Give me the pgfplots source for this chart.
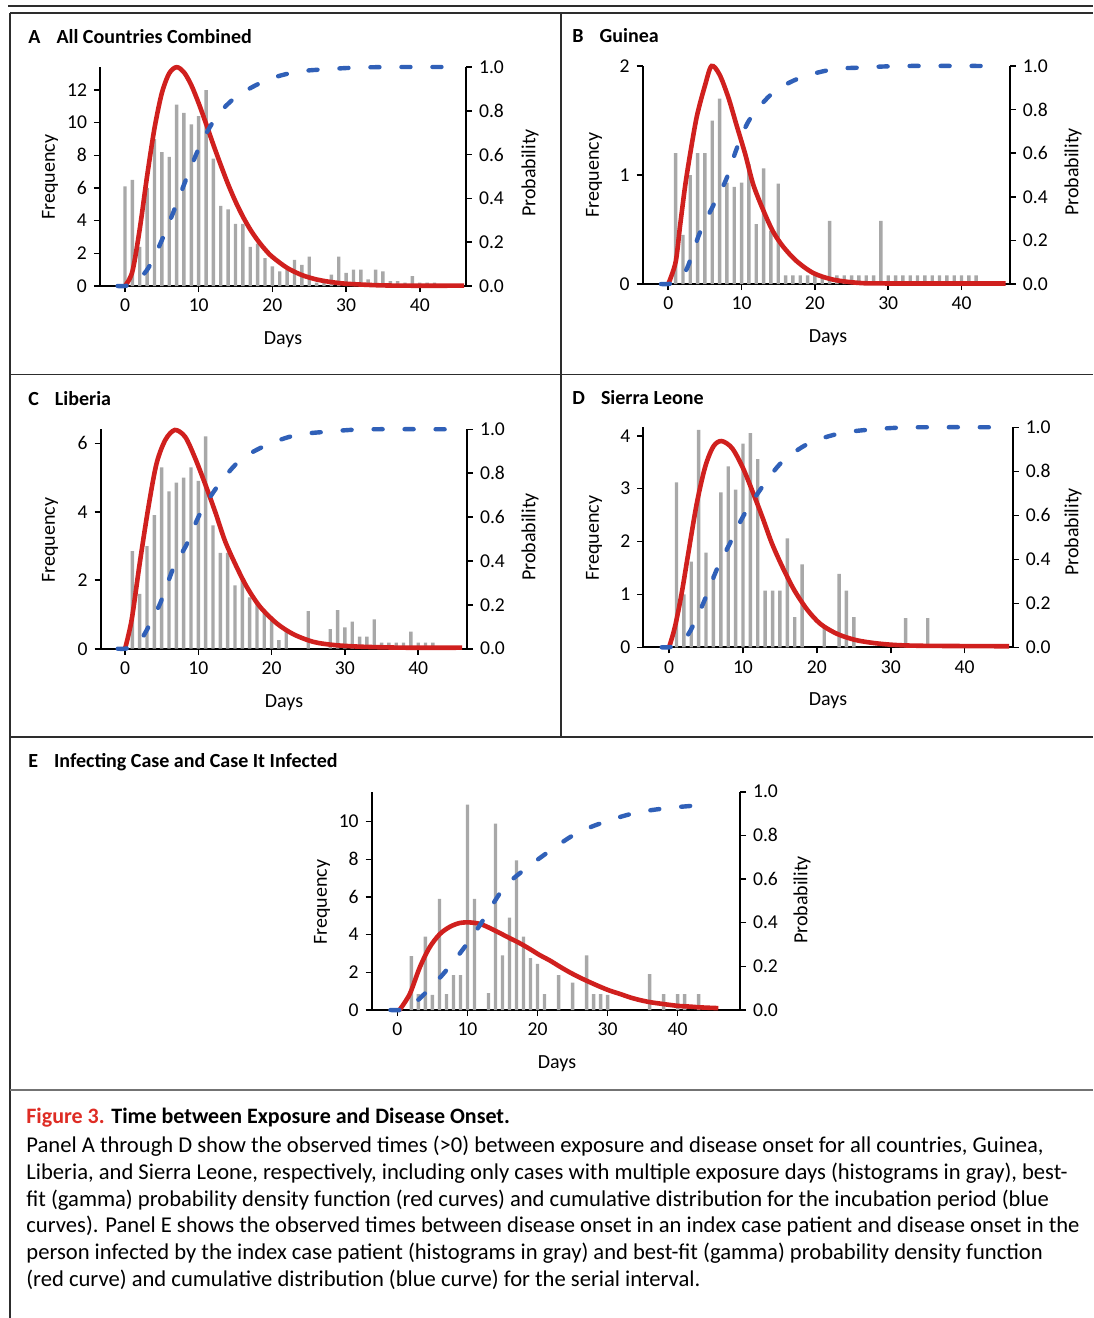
\documentclass[border=0pt]{standalone}
\usepackage{fontspec}
\setmainfont{Carlito}
\usepackage{pgfplots}
\pgfplotsset{compat=1.18}

\definecolor{barg}{RGB}{168,168,168}
\definecolor{pdfred}{RGB}{208,32,30}
\definecolor{cdfblue}{RGB}{48,96,184}
\definecolor{figred}{RGB}{222,44,36}
\definecolor{framec}{RGB}{45,45,45}

\newcommand{\tickfont}{\fontsize{9.8}{10}\selectfont}
\newcommand{\labfont}{\fontsize{10}{11}\selectfont}
\newcommand{\titfont}{\fontsize{10}{12}\selectfont\bfseries}
\newcommand{\capfont}{\fontsize{11.3}{13.4}\selectfont}

\pgfplotsset{
  panel/.style={scale only axis, clip=false,
    axis line style={line width=0.9pt, black},
    tick style={line width=0.8pt, black},
    major tick length=3pt, tick align=outside,
    ticklabel style={font=\tickfont},
    /pgf/number format/assume math mode=true},
  leftax/.style={panel, axis x line*=bottom, axis y line*=left,
    xtick={0,10,20,30,40}, ymin=0},
  rightax/.style={panel, axis x line=none, axis y line*=right,
    ymin=0, ymax=1, ytick={0,0.2,0.4,0.6,0.8,1},
    yticklabel style={/pgf/number format/.cd, fixed, fixed zerofill, precision=1}},
  bars/.style={ybar, bar width=1.7pt, bar shift=0pt, fill=barg, draw=none},
  pdf/.style={pdfred, line width=2.3pt, smooth, no markers},
  cdf/.style={cdfblue, line width=2.2pt, line cap=round, dash pattern=on 4.5pt off 11pt, smooth, no markers},
}

\begin{document}
\begin{tikzpicture}
\useasboundingbox (0pt,0pt) rectangle (546.5pt,-659pt);

% frame
\draw[framec, line width=1pt] (4pt,-3pt) -- (546.5pt,-3pt);
\draw[framec, line width=0.9pt] (5pt,-6.5pt) -- (546.5pt,-6.5pt);
\draw[framec, line width=0.9pt] (5pt,-6.5pt) -- (5pt,-659pt);
\draw[framec, line width=0.9pt] (280.5pt,-6.5pt) -- (280.5pt,-368.5pt);
\draw[framec, line width=0.8pt] (5pt,-187.2pt) -- (546.5pt,-187.2pt);
\draw[framec, line width=0.8pt] (5pt,-368.5pt) -- (546.5pt,-368.5pt);
\draw[black!55, line width=1.3pt] (5pt,-545pt) -- (546.5pt,-545pt);

% ---------- A ----------
\begin{axis}[leftax, at={(50pt,-143pt)}, anchor=south west, width=183pt, height=109.5pt,
  xmin=-3.39, xmax=46.27, ymax=13.41, ytick={0,2,4,6,8,10,12}]
\addplot[bars] coordinates {(0,6.1)(1,6.5)(2,2.4)(3,6.0)(4,9.0)(5,8.2)(6,7.9)(7,11.1)(8,10.6)(9,9.9)
  (10,10.4)(11,12.0)(12,7.8)(13,4.9)(14,4.7)(15,3.8)(16,3.8)(17,2.4)(18,2.6)(19,1.7)(20,1.2)
  (21,0.9)(22,1.0)(23,1.6)(24,1.3)(25,1.8)(26,0.2)(27,0.2)(28,0.7)(29,1.8)(30,0.8)(31,1.0)
  (32,1.0)(33,0.4)(34,1.0)(35,0.9)(36,0.3)(37,0.3)(38,0.2)(39,0.6)(40,0.2)(41,0.2)(42,0.2)};
\addplot[pdf] coordinates {(0,0)(1,0.88)(2,3.48)(3,6.73)(4,9.65)(5,11.81)(6,13.02)(7,13.4)(8,13.09)
  (9,12.30)(10,11.19)(11,9.94)(12,8.64)(13,7.40)(14,6.22)(15,5.17)(16,4.25)(17,3.46)(18,2.80)
  (19,2.24)(20,1.78)(22,1.11)(24,0.67)(26,0.40)(28,0.24)(30,0.14)(34,0.05)(38,0.02)(46,0.02)};
\end{axis}
\begin{axis}[rightax, at={(50pt,-143pt)}, anchor=south west, width=183pt, height=109.5pt,
  xmin=-3.39, xmax=46.27]
\addplot[cdf] coordinates {(-1,0)(0,0)(1,0.01)(2,0.035)(3.2,0.084)(4.75,0.19)(6.55,0.336)(8.14,0.474)
  (10.2,0.642)(12.4,0.772)(15.1,0.864)(19.2,0.94)(23.3,0.978)(27.4,0.99)(32,0.998)(38,1.0)(45,1.0)};
\end{axis}

% ---------- B ----------
\begin{axis}[leftax, at={(321.35pt,-142pt)}, anchor=south west, width=183.6pt, height=109pt,
  xmin=-3.49, xmax=46.6, ymax=2, ytick={0,1,2}]
\addplot[bars] coordinates {(1,1.2)(2,0.45)(3,1.0)(4,1.2)(5,1.2)(6,1.5)(7,1.7)(8,0.93)(9,0.89)
  (10,0.93)(11,1.1)(12,0.55)(13,1.06)(14,0.49)(15,0.92)(16,0.08)(17,0.08)(18,0.08)(19,0.08)
  (20,0.08)(21,0.08)(22,0.58)(23,0.08)(24,0.08)(25,0.08)(26,0.08)(27,0.08)(28,0.08)(29,0.58)
  (30,0.08)(31,0.08)(32,0.08)(33,0.08)(34,0.08)(35,0.08)(36,0.08)(37,0.08)(38,0.08)(39,0.08)
  (40,0.08)(41,0.08)(42,0.08)};
\addplot[pdf] coordinates {(0,0)(1,0.2)(1.6,0.53)(2.3,0.9)(3.0,1.2)(3.9,1.54)(5.0,1.82)(5.9,2.0)
  (7.0,1.92)(8.2,1.71)(9.3,1.46)(10.5,1.19)(11.6,0.91)(13.0,0.67)(14.3,0.48)(15.7,0.34)
  (17.5,0.21)(19.8,0.10)(22.5,0.04)(26,0.01)(30,0.005)(46,0.005)};
\end{axis}
\begin{axis}[rightax, at={(321.35pt,-142pt)}, anchor=south west, width=183.6pt, height=109pt,
  xmin=-3.49, xmax=46.6]
\addplot[cdf] coordinates {(-1,0)(0,0)(1,0.01)(2,0.045)(2.7,0.083)(4.3,0.235)(6.1,0.358)(7.9,0.48)
  (9.3,0.618)(11.1,0.755)(14.3,0.878)(18.0,0.946)(22.5,0.985)(26.6,0.993)(32,1.0)(45.5,1.0)};
\end{axis}

% ---------- C ----------
\begin{axis}[leftax, at={(50.35pt,-324.35pt)}, anchor=south west, width=183.15pt, height=109.7pt,
  xmin=-3.32, xmax=46.66, ymax=6.41, ytick={0,2,4,6}]
\addplot[bars] coordinates {(1,2.85)(2,1.6)(3,3.0)(4,3.9)(5,5.3)(6,4.6)(7,4.85)(8,5.0)(9,5.3)
  (10,4.9)(11,6.2)(12,3.6)(13,2.8)(14,2.8)(15,1.85)(16,2.0)(17,1.5)(18,1.35)(19,1.1)(20,0.85)
  (21,0.25)(22,0.52)(25,1.1)(28,0.57)(29,1.13)(30,0.62)(31,0.79)(32,0.35)(33,0.35)(34,0.86)
  (35,0.18)(36,0.18)(37,0.18)(38,0.18)(39,0.5)(40,0.18)(41,0.18)(42,0.18)};
\addplot[pdf] coordinates {(0,0)(0.9,0.84)(2.0,2.49)(3.2,4.15)(4.3,5.41)(5.5,6.1)(6.8,6.39)(8.2,6.19)
  (9.5,5.6)(10.9,4.83)(12.3,4.0)(13.6,3.17)(15.0,2.49)(16.6,1.81)(18.4,1.23)(20.7,0.74)
  (23.0,0.42)(25.7,0.2)(28.4,0.11)(32,0.06)(38,0.03)(46,0.03)};
\end{axis}
\begin{axis}[rightax, at={(50.35pt,-324.35pt)}, anchor=south west, width=183.15pt, height=109.7pt,
  xmin=-3.32, xmax=46.66]
\addplot[cdf] coordinates {(-1,0)(0,0)(1,0.01)(2,0.04)(2.7,0.069)(4.8,0.207)(6.6,0.368)(8.4,0.475)
  (10.2,0.613)(12.7,0.744)(15.7,0.859)(19.3,0.928)(23.4,0.974)(28,0.99)(33,1.0)(45.5,1.0)};
\end{axis}

% ---------- D ----------
\begin{axis}[leftax, at={(321.65pt,-323.65pt)}, anchor=south west, width=184.7pt, height=110pt,
  xmin=-3.49, xmax=46.5, ymax=4.16, ytick={0,1,2,3,4}]
\addplot[bars] coordinates {(1,3.12)(2,1.0)(3,1.62)(4,4.11)(5,1.79)(6,1.35)(7,2.93)(8,3.42)(9,2.98)
  (10,3.85)(11,4.05)(12,3.56)(13,1.07)(14,1.07)(15,1.07)(16,2.06)(17,0.57)(18,1.57)(21,0.4)
  (23,1.39)(24,1.07)(25,0.57)(32,0.55)(35,0.55)};
\addplot[pdf] coordinates {(0,0)(0.8,0.39)(1.7,1.02)(2.6,1.78)(3.76,2.73)(4.9,3.42)(6.0,3.8)(7.1,3.9)
  (8.5,3.77)(9.9,3.42)(11.2,2.98)(12.6,2.47)(13.9,1.97)(15.3,1.53)(16.9,1.09)(18.7,0.71)
  (20.5,0.44)(22.8,0.25)(25.5,0.13)(29.1,0.06)(33.6,0.03)(46,0.02)};
\end{axis}
\begin{axis}[rightax, at={(321.65pt,-323.65pt)}, anchor=south west, width=184.7pt, height=110pt,
  xmin=-3.49, xmax=46.5]
\addplot[cdf] coordinates {(-1,0)(0,0)(1,0.01)(2,0.04)(2.85,0.073)(4.66,0.203)(6.47,0.355)(8.3,0.477)
  (10.1,0.6)(12.6,0.729)(15.3,0.843)(18.9,0.927)(23.2,0.973)(27.7,0.991)(33,1.0)(45.5,1.0)};
\end{axis}

% ---------- E ----------
\begin{axis}[leftax, at={(185.85pt,-505pt)}, anchor=south west, width=184.15pt, height=109.15pt,
  xmin=-3.67, xmax=48.9, ymax=11.59, ytick={0,2,4,6,8,10}]
\addplot[bars] coordinates {(2,2.86)(3,0.85)(4,3.9)(5,0.8)(6,5.9)(7,0.85)(8,1.85)(9,1.85)(10,10.9)
  (11,5.9)(13,0.9)(14,9.9)(15,2.9)(16,4.9)(17,7.95)(18,3.9)(19,2.75)(20,2.45)(21,0.85)(23,1.85)
  (25,1.45)(27,2.9)(28,0.85)(29,0.85)(30,0.8)(36,1.9)(38,0.85)(40,0.85)(41,0.85)(43,0.85)};
\addplot[pdf] coordinates {(0.3,0)(1.76,0.85)(3.2,2.27)(4.6,3.33)(6.05,4.03)(7.5,4.42)(8.9,4.62)
  (10.3,4.65)(11.8,4.57)(13.2,4.35)(14.6,4.09)(16.0,3.82)(17.5,3.54)(18.9,3.24)(20.3,2.92)
  (21.8,2.62)(23.2,2.30)(24.6,2.0)(26.0,1.73)(27.5,1.47)(28.9,1.24)(30.3,1.03)(31.8,0.85)
  (33.2,0.67)(34.6,0.53)(36.0,0.42)(37.5,0.34)(38.9,0.27)(40.3,0.21)(41.8,0.18)(43.2,0.14)(45.8,0.1)};
\end{axis}
\begin{axis}[rightax, at={(185.85pt,-505pt)}, anchor=south west, width=184.15pt, height=109.15pt,
  xmin=-3.67, xmax=48.9]
\addplot[cdf] coordinates {(-1,0)(0.5,0)(1.5,0.012)(3.2,0.053)(6.4,0.16)(9.4,0.28)(12.0,0.40)
  (15.1,0.556)(18.0,0.64)(21.8,0.73)(25.6,0.81)(29.7,0.863)(34.1,0.904)(38.8,0.926)(44,0.94)};
\end{axis}

% ---------- titles and labels ----------
\begin{scope}[every node/.style={inner sep=0pt}]
\node[anchor=west, font=\titfont] at (14pt,-18.5pt) {A\hspace{8pt}All Countries Combined};
\node[anchor=west, font=\titfont] at (286pt,-18pt) {B\hspace{8pt}Guinea};
\node[anchor=west, font=\titfont] at (14pt,-199.5pt) {C\hspace{8pt}Liberia};
\node[anchor=west, font=\titfont] at (286pt,-199pt) {D\hspace{8pt}Sierra Leone};
\node[anchor=west, font=\titfont] at (14pt,-381pt) {E\hspace{8pt}Infecting Case and Case It Infected};

\node[font=\labfont, rotate=90] at (25pt,-88.5pt) {Frequency};
\node[font=\labfont, rotate=90] at (297pt,-87.5pt) {Frequency};
\node[font=\labfont, rotate=90] at (25pt,-270pt) {Frequency};
\node[font=\labfont, rotate=90] at (297pt,-269pt) {Frequency};
\node[font=\labfont, rotate=90] at (161pt,-451pt) {Frequency};

\node[font=\labfont, rotate=90] at (265pt,-86.5pt) {Probability};
\node[font=\labfont, rotate=90] at (536.5pt,-86pt) {Probability};
\node[font=\labfont, rotate=90] at (265pt,-268.5pt) {Probability};
\node[font=\labfont, rotate=90] at (536.5pt,-266pt) {Probability};
\node[font=\labfont, rotate=90] at (401pt,-450pt) {Probability};

\node[font=\labfont] at (141.5pt,-170pt) {Days};
\node[font=\labfont] at (414pt,-169pt) {Days};
\node[font=\labfont] at (142pt,-351.5pt) {Days};
\node[font=\labfont] at (414pt,-350.5pt) {Days};
\node[font=\labfont] at (278.5pt,-532pt) {Days};

% caption
\node[anchor=base west, font=\fontsize{11}{13}\selectfont\bfseries] at (13pt,-561.5pt)
  {\textcolor{figred}{Figure 3.} Time between Exposure and Disease Onset.};
\node[anchor=base west, font=\capfont] at (13pt,-576pt)
  {Panel A through D show the observed times (>0) between exposure and disease onset for all countries, Guinea,};
\node[anchor=base west, font=\capfont] at (13pt,-589.5pt)
  {Liberia, and Sierra Leone, respectively, including only cases with multiple exposure days (histograms in gray), best-};
\node[anchor=base west, font=\capfont] at (13pt,-603pt)
  {fit (gamma) probability density function (red curves) and cumulative distribution for the incubation period (blue};
\node[anchor=base west, font=\capfont] at (13pt,-616pt)
  {curves). Panel E shows the observed times between disease onset in an index case patient and disease onset in the};
\node[anchor=base west, font=\capfont] at (13pt,-629.5pt)
  {person infected by the index case patient (histograms in gray) and best-fit (gamma) probability density function};
\node[anchor=base west, font=\capfont] at (13pt,-643pt)
  {(red curve) and cumulative distribution (blue curve) for the serial interval.};
\end{scope}
\end{tikzpicture}
\end{document}
